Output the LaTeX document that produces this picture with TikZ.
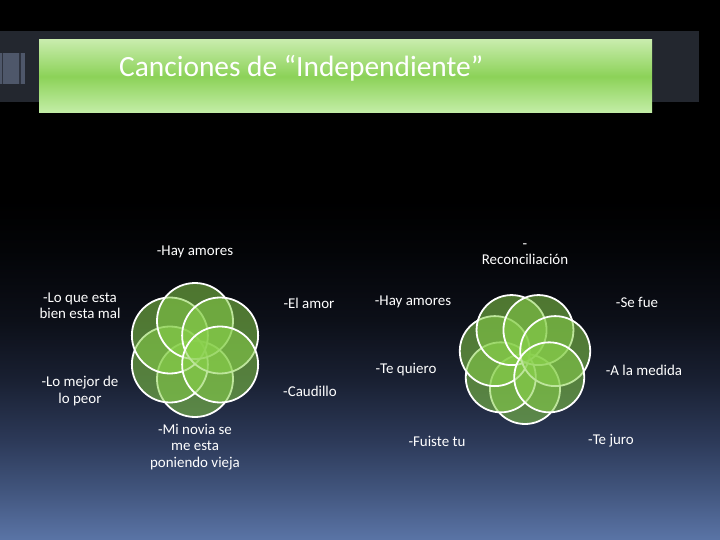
\documentclass[tikz,border=0pt]{standalone}
\usepackage{fontspec}
\usetikzlibrary{calc}
\setmainfont{Carlito}
\definecolor{bandgray}{RGB}{35,39,47}
\definecolor{sqgray}{RGB}{78,87,106}
\definecolor{sqline}{RGB}{45,50,62}
\definecolor{titletop}{RGB}{200,236,172}
\definecolor{titlemid}{RGB}{140,210,88}
\definecolor{titlebot}{RGB}{196,238,168}
\definecolor{petalgreen}{RGB}{136,208,74}
\pgfdeclareverticalshading{bgshade}{100bp}{%
  rgb(0bp)=(0.353,0.455,0.651);
  rgb(25bp)=(0.353,0.455,0.651);
  rgb(29.63bp)=(0.255,0.333,0.49);
  rgb(34.26bp)=(0.173,0.224,0.345);
  rgb(39.81bp)=(0.098,0.125,0.196);
  rgb(45.37bp)=(0.047,0.059,0.094);
  rgb(51.85bp)=(0.012,0.016,0.027);
  rgb(56.48bp)=(0,0,0);
  rgb(100bp)=(0,0,0)}
\tikzset{
  lbl/.style={text=white, font=\fontsize{15}{16.5}\selectfont, align=center, inner sep=0pt},
  petal/.style={circle, draw=white, line width=1.8bp, fill=petalgreen, fill opacity=0.55, inner sep=0pt},
}
\begin{document}
\begin{tikzpicture}[x=1bp,y=-1bp]
\useasboundingbox (0,0) rectangle (720,540);
\shade[shading=bgshade] (0,0) rectangle (720,540);
% header band
\fill[bandgray] (0,31) rectangle (699,102);
\fill[sqgray] (0,53) rectangle (25,84);
\fill[sqline] (1.5,53) rectangle (3,84);
\fill[sqline] (19,53) rectangle (21,84);
% title box
\shade[top color=titletop, bottom color=titlebot, middle color=titlemid] (39,40) rectangle (652,113);
\node[anchor=west, text=white, font=\fontsize{29.5}{33}\selectfont, inner sep=0pt] (title) at (119,68) {Canciones de “Independiente”};
% left flower
\coordinate (lc) at (195,350);
\foreach \i in {0,...,5} {
  \node[petal, minimum size=76bp] (lp\i) at ($(lc)+({90+60*\i}:29)$) {};
}
% right flower
\coordinate (rc) at (525,358);
\foreach \i in {0,...,6} {
  \node[petal, minimum size=70bp] (rp\i) at ($(rc)+({90+360/7*\i}:31)$) {};
}
% left labels
\node[lbl] (a1) at (195,252) {-Hay amores};
\node[lbl] (a2) at (80,306) {-Lo que esta\\bien esta mal};
\node[lbl] (a3) at (309,303) {-El amor};
\node[lbl] (a4) at (80,391) {-Lo mejor de\\lo peor};
\node[lbl] (a5) at (310,391) {-Caudillo};
\node[lbl] (a6) at (195,447) {-Mi novia se\\me esta\\poniendo vieja};
% right labels
\node[lbl] (b1) at (525,254) {-\\Reconciliación};
\node[lbl] (b2) at (413,302) {-Hay amores};
\node[lbl] (b3) at (637,302) {-Se fue};
\node[lbl] (b4) at (406,370) {-Te quiero};
\node[lbl] (b5) at (644,370) {-A la medida};
\node[lbl] (b6) at (437,441) {-Fuiste tu};
\node[lbl] (b7) at (611,441) {-Te juro};
\end{tikzpicture}
\end{document}
